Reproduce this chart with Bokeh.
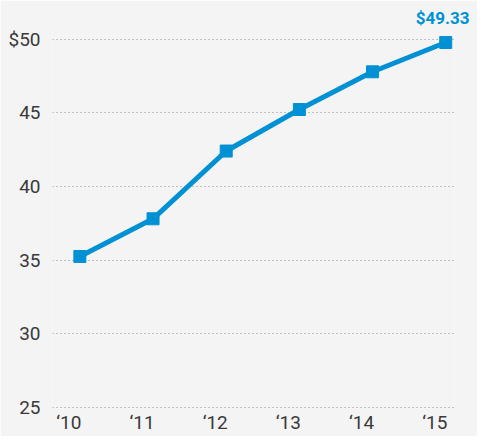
from bokeh.plotting import figure
from bokeh.models import Range1d, FixedTicker, LinearAxis
from bokeh.embed import file_html
from bokeh.resources import INLINE

years = [2010, 2011, 2012, 2013, 2014, 2015]
year_labels = ["\u201810", "\u201811", "\u201812", "\u201813", "\u201814", "\u201815"]
values = [35.24, 37.8, 42.4, 45.22, 47.78, 49.77]
y_ticks = [25, 30, 35, 40, 45, 50]
y_tick_labels = ["25", "30", "35", "40", "45", "$50"]
last_label = "$49.33"

BG = "#f4f4f4"
BLUE = "#0091d5"

X0, X1 = 2009.626, 2015.12
LABEL_SHIFT = 0.15  # tick labels sit to the left of their points

p = figure(width=477, height=436, output_backend="svg", toolbar_location=None,
           x_range=Range1d(X0, X1), y_range=Range1d(24.92, 50.584),
           min_border_left=52, min_border_right=23, min_border_top=30, min_border_bottom=28,
           title=last_label, x_axis_location=None)
p.background_fill_color = BG
p.border_fill_color = BG
p.outline_line_color = None

p.title.align = "right"
p.title.offset = -15
p.title.text_color = BLUE
p.title.text_font = "Roboto"
p.title.text_font_style = "bold"
p.title.text_font_size = "17px"
p.title.standoff = 6

p.line(years, values, line_color=BLUE, line_width=5)
p.scatter(years, values, marker="square", size=12, fill_color=BLUE, line_color=BLUE)

p.extra_x_ranges = {"labels": Range1d(X0 + LABEL_SHIFT, X1 + LABEL_SHIFT)}
xaxis = LinearAxis(x_range_name="labels", ticker=FixedTicker(ticks=years),
                   major_label_overrides={t: l for t, l in zip(years, year_labels)})
p.add_layout(xaxis, "below")

p.xgrid.grid_line_color = None
p.ygrid.grid_line_color = "#8c8c8c"
p.ygrid.grid_line_dash = "1 3"
p.ygrid.grid_line_width = 1
p.ygrid.ticker = FixedTicker(ticks=y_ticks)

p.yaxis.ticker = FixedTicker(ticks=y_ticks)
p.yaxis.major_label_overrides = {t: l for t, l in zip(y_ticks, y_tick_labels)}

for ax in (xaxis, p.yaxis[0]):
    ax.axis_line_color = None
    ax.major_tick_line_color = None
    ax.minor_tick_line_color = None
    ax.major_tick_out = 0
    ax.major_tick_in = 0
    ax.major_label_text_font = "Roboto"
    ax.major_label_text_font_size = "19px"
    ax.major_label_text_color = "#3a3a3a"
p.yaxis.major_label_standoff = 12
xaxis.major_label_standoff = 2

open("out.html", "w").write(file_html(p, INLINE))
